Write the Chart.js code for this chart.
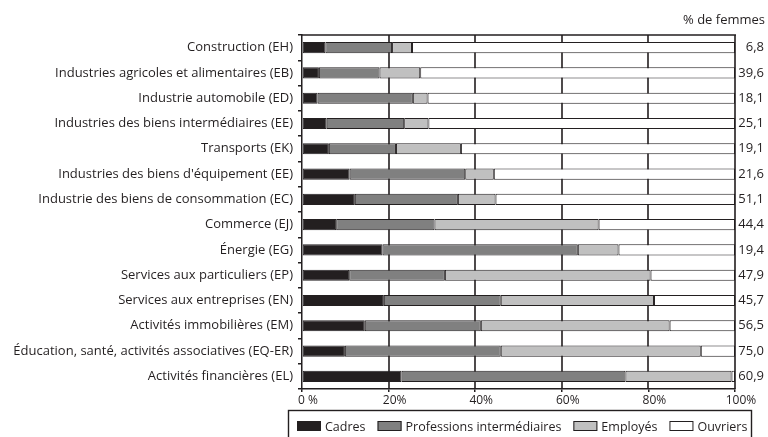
<!DOCTYPE html>
<html lang="fr">
<head>
<meta charset="utf-8">
<script src="https://cdn.jsdelivr.net/npm/chart.js@4"></script>
<style>
  html, body { margin: 0; padding: 0; background: #ffffff; }
  canvas { display: block; }
</style>
</head>
<body>
<canvas id="chart" width="768" height="437"></canvas>
<script>
// Secteurs d'activité (de haut en bas)
const sectors = [
  'Construction (EH)',
  'Industries agricoles et alimentaires (EB)',
  'Industrie automobile (ED)',
  'Industries des biens intermédiaires (EE)',
  'Transports (EK)',
  "Industries des biens d'équipement (EE)",
  'Industrie des biens de consommation (EC)',
  'Commerce (EJ)',
  'Énergie (EG)',
  'Services aux particuliers (EP)',
  'Services aux entreprises (EN)',
  'Activités immobilières (EM)',
  'Éducation, santé, activités associatives (EQ-ER)',
  'Activités financières (EL)'
];

// Répartition par catégorie socioprofessionnelle (en %)
const cadres      = [5.4, 3.9, 3.6, 5.7, 6.2, 11.0, 12.2, 7.9, 18.6, 10.9, 18.9, 14.5, 9.9, 23.0];
const professions = [15.4, 14.0, 22.0, 17.9, 15.5, 26.7, 23.8, 22.7, 45.1, 22.1, 27.0, 26.8, 36.0, 51.7];
const employes    = [4.6, 9.4, 3.4, 5.6, 15.0, 6.6, 8.7, 37.9, 9.4, 47.5, 35.4, 43.6, 46.2, 24.5];
const ouvriers    = [74.6, 72.7, 71.0, 70.8, 63.3, 55.7, 55.3, 31.5, 26.9, 19.5, 18.7, 15.1, 7.9, 0.8];

// Part des femmes dans chaque secteur (%)
const femmes = [6.8, 39.6, 18.1, 25.1, 19.1, 21.6, 51.1, 44.4, 19.4, 47.9, 45.7, 56.5, 75.0, 60.9];

const seriesNames = ['Cadres', 'Professions intermédiaires', 'Employés', 'Ouvriers'];
const xTickStep = 20;
const femmesHeader = '% de femmes';

const INK = '#231f20';
const FILLS = ['#231f20', '#808080', '#c0c0c0', '#ffffff'];
const FONT = 'Open Sans';

Chart.defaults.font.family = FONT;
Chart.defaults.font.size = 13;
Chart.defaults.color = INK;

const seriesValues = [cadres, professions, employes, ouvriers];
const datasets = seriesNames.map((name, i) => ({
  label: name,
  data: seriesValues[i],
  backgroundColor: FILLS[i],
  borderColor: INK,
  borderWidth: 1,
  borderSkipped: false,
  barPercentage: 0.44,
  categoryPercentage: 1.0
}));

const fmt = v => v.toFixed(1).replace('.', ',');

// Lignes verticales de la grille et bord supérieur, tracés sous les barres
const frameGrid = {
  id: 'frameGrid',
  beforeDatasetsDraw(chart) {
    const { ctx, chartArea: a, scales: { x } } = chart;
    ctx.save();
    ctx.strokeStyle = INK;
    ctx.lineWidth = 1.6;
    ctx.beginPath();
    x.ticks.forEach(t => {
      if (t.value === 0) return;
      const px = Math.round(x.getPixelForValue(t.value));
      ctx.moveTo(px, a.top);
      ctx.lineTo(px, a.bottom);
    });
    ctx.moveTo(a.left, Math.round(a.top));
    ctx.lineTo(a.right + 1, Math.round(a.top));
    ctx.stroke();
    ctx.restore();
  }
};

// Colonne « % de femmes » et légende encadrée
const annotations = {
  id: 'annotations',
  afterDraw(chart) {
    const { ctx, scales: { y } } = chart;
    ctx.save();
    ctx.fillStyle = INK;
    ctx.font = '13px "' + FONT + '"';
    ctx.textAlign = 'right';
    ctx.textBaseline = 'middle';
    ctx.fillText(femmesHeader, 765, 20);
    femmes.forEach((v, i) => {
      ctx.fillText(fmt(v), 764, y.getPixelForValue(i));
    });

    // légende
    const boxW = 24, boxH = 10, gapText = 4, gapItem = 12;
    const rowY = 426;
    let x = 297;
    ctx.font = '12.5px "' + FONT + '"';
    ctx.textAlign = 'left';
    ctx.lineWidth = 1;
    seriesNames.forEach((name, i) => {
      ctx.fillStyle = FILLS[i];
      ctx.fillRect(x, rowY - boxH / 2, boxW, boxH);
      ctx.strokeStyle = INK;
      ctx.strokeRect(x + 0.5, rowY - boxH / 2 + 0.5, boxW - 1, boxH - 1);
      x += boxW + gapText;
      ctx.fillStyle = INK;
      ctx.fillText(name, x, rowY + 1);
      x += ctx.measureText(name).width + gapItem;
    });
    const right = Math.round(x - gapItem + 4);
    ctx.strokeStyle = INK;
    ctx.lineWidth = 1.4;
    ctx.strokeRect(288.5, 410.5, right - 288, 40);
    ctx.restore();
  }
};

new Chart(document.getElementById('chart'), {
  type: 'bar',
  data: { labels: sectors, datasets },
  options: {
    indexAxis: 'y',
    responsive: false,
    animation: false,
    layout: { padding: { top: 35, right: 33, bottom: 0, left: 0 } },
    plugins: { legend: { display: false }, tooltip: { enabled: false } },
    scales: {
      x: {
        stacked: true,
        min: 0,
        max: 100,
        afterFit(scale) { scale.height = 48; },
        grid: { color: INK, lineWidth: 1.5, tickLength: 3, drawOnChartArea: false },
        border: { color: INK, width: 1.5 },
        ticks: {
          stepSize: xTickStep,
          padding: 1,
          labelOffset: 6,
          maxRotation: 0,
          font: { size: 12 },
          callback: v => (v === 0 ? '0 %' : v + '%')
        }
      },
      y: {
        stacked: true,
        afterFit(scale) { scale.width = 302; },
        grid: { drawOnChartArea: false, color: INK, lineWidth: 1.5, tickLength: 4, offset: true },
        border: { color: INK, width: 1.5 },
        ticks: { padding: 5, autoSkip: false }
      }
    }
  },
  plugins: [frameGrid, annotations]
});
</script>
</body>
</html>
